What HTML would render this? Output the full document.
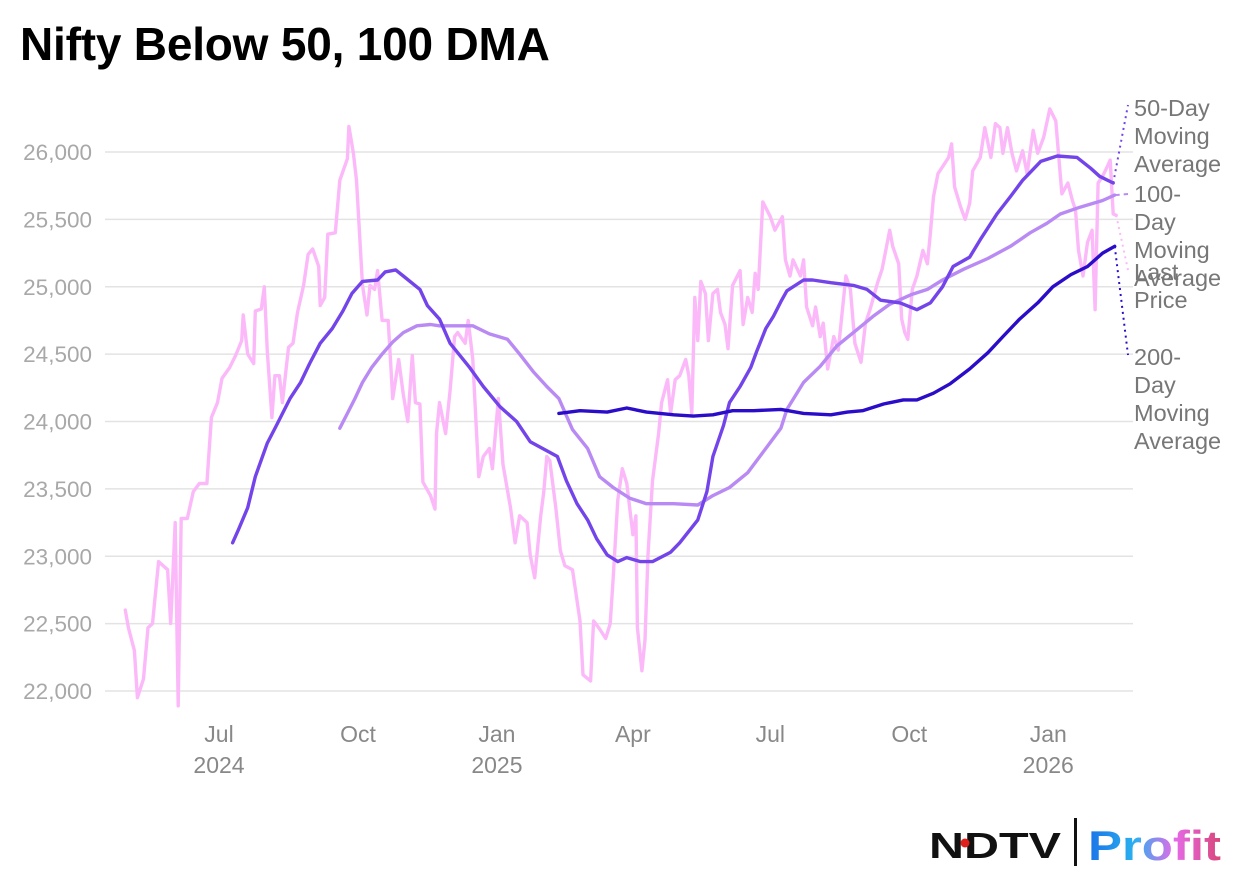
<!DOCTYPE html>
<html><head><meta charset="utf-8"><style>
html,body{margin:0;padding:0;background:#fff;}
body{width:1240px;height:888px;overflow:hidden;font-family:"Liberation Sans",sans-serif;position:relative;}
#title{position:absolute;left:20px;top:17px;font-size:46px;font-weight:bold;color:#000;letter-spacing:-0.2px;}
</style></head><body>
<div id="title">Nifty Below 50, 100 DMA</div>
<svg id="chart" width="1240" height="888" style="position:absolute;left:0;top:0" xmlns="http://www.w3.org/2000/svg">
<defs><linearGradient id="pg" x1="0" x2="1" y1="0" y2="0"><stop offset="0" stop-color="#1a73e8"/><stop offset="0.35" stop-color="#2ab0f0"/><stop offset="0.65" stop-color="#e56ae8"/><stop offset="1" stop-color="#d9467a"/></linearGradient></defs>
<g id="grid"></g><g id="yticks"></g><g id="xticks"></g><g id="series"></g><g id="annot"></g>
<g>
<text x="929" y="858" font-family="Liberation Sans, sans-serif" font-weight="bold" font-size="36" fill="#111" textLength="132" lengthAdjust="spacingAndGlyphs">NDTV</text>
<circle cx="965" cy="843" r="4.5" fill="#e0201c"/>
<rect x="1074" y="818" width="3" height="48" fill="#111"/>
<text x="1088" y="860" font-family="Liberation Sans, sans-serif" font-weight="bold" font-size="42" fill="url(#pg)" textLength="133" lengthAdjust="spacingAndGlyphs">Profit</text>
</g>
</svg>
<script>
// Days since 2024-07-01
const priceDays=[-62,-60,-56,-54,-50,-47,-44,-40,-34,-32,-29,-27,-25,-21,-17,-13,-8,-5,-1,2,7,11,15,16,19,23,24,28,30,32,35,37,40,42,46,49,52,56,59,62,66,67,70,72,77,80,85,86,89,91,95,98,100,103,105,108,112,115,119,122,125,128,130,133,135,140,143,144,146,150,153,156,158,163,165,168,172,175,179,181,185,188,193,196,199,204,206,209,213,215,217,219,223,226,229,234,239,241,246,248,252,256,259,261,264,267,270,274,276,277,280,282,284,287,291,293,297,299,302,305,309,311,313,315,317,319,322,324,327,330,332,335,337,340,345,347,350,353,355,357,360,365,368,373,375,378,380,385,387,389,393,395,398,400,403,407,410,415,418,421,425,428,431,436,439,444,446,450,452,454,456,459,462,466,469,471,473,476,479,483,485,487,491,494,497,499,504,507,511,514,517,519,522,525,528,532,535,539,542,546,550,554,556,558,562,565,567,569,572,575,578,580,582,585,588,590,592,594];
const priceVals=[22600,22470,22300,21950,22090,22470,22500,22960,22900,22500,23250,21890,23280,23280,23480,23540,23540,24030,24140,24320,24400,24490,24600,24790,24500,24430,24820,24835,25000,24520,24030,24340,24340,24140,24550,24580,24810,25010,25240,25280,25150,24860,24920,25390,25400,25790,25950,26190,25990,25790,25010,24790,25010,24980,25120,24750,24750,24170,24460,24200,24000,24490,24140,24130,23550,23450,23350,23910,24140,23910,24230,24630,24660,24580,24750,24460,23590,23740,23800,23650,24170,23680,23360,23100,23300,23250,23010,22840,23300,23480,23740,23710,23360,23040,22930,22900,22520,22120,22075,22520,22460,22390,22500,22840,23420,23650,23540,23160,23300,22470,22150,22380,23010,23560,23910,24140,24310,24060,24310,24340,24460,24340,24060,24920,24600,25040,24950,24600,24950,24980,24810,24720,24540,25010,25120,24720,24920,24810,25100,24980,25630,25520,25420,25520,25200,25080,25200,25080,25200,24850,24710,24850,24630,24730,24390,24630,24530,25080,24980,24580,24440,24730,24830,25030,25130,25420,25300,25170,24760,24660,24610,24980,25080,25270,25170,25400,25670,25840,25890,25960,26060,25740,25590,25500,25620,25860,25960,26180,25960,26210,26180,25990,26180,25990,25860,26010,25840,26160,25990,26110,26320,26230,25960,25690,25770,25640,25570,25270,25080,25330,25420,24830,25770,25820,25890,25940,25540,25530];
const ma50Days=[9,13,19,24,32,38,47,54,60,67,75,82,88,95,105,110,117,122,133,138,146,153,166,175,186,197,206,224,230,237,244,250,257,264,270,279,287,299,305,317,323,327,334,338,345,352,356,362,367,372,376,387,393,405,420,429,438,451,462,471,479,486,497,504,515,524,532,544,555,568,577,583,592];
const ma50Vals=[23100,23200,23360,23590,23840,23970,24170,24290,24430,24580,24690,24820,24950,25040,25050,25110,25125,25080,24980,24860,24760,24580,24400,24260,24110,24000,23850,23740,23560,23390,23270,23130,23010,22960,22990,22960,22960,23030,23100,23270,23480,23740,23970,24140,24260,24400,24520,24690,24780,24890,24970,25050,25050,25030,25010,24980,24900,24880,24830,24880,25000,25150,25220,25350,25540,25670,25790,25930,25970,25960,25880,25820,25770];
const ma100Days=[80,85,90,95,101,108,115,122,131,140,146,168,179,191,199,208,217,225,234,244,252,261,272,283,301,317,327,338,350,358,372,376,387,398,409,420,433,444,458,469,479,493,509,524,537,548,557,570,585,593];
const ma100Vals=[23950,24060,24170,24290,24400,24500,24590,24660,24710,24720,24710,24710,24650,24610,24500,24370,24260,24170,23940,23800,23590,23510,23430,23390,23390,23380,23450,23510,23620,23740,23950,24090,24290,24410,24560,24660,24780,24870,24940,24980,25050,25130,25210,25300,25400,25470,25540,25590,25640,25680];
const ma200Days=[225,239,257,270,283,301,314,327,340,354,372,387,405,416,426,440,453,462,473,484,497,509,519,530,542,552,564,575,585,593];
const ma200Vals=[24060,24080,24070,24100,24070,24050,24040,24050,24080,24080,24090,24060,24050,24070,24080,24130,24160,24160,24210,24280,24390,24510,24630,24760,24880,25000,25090,25150,25250,25300];
const yTicks=[22000,22500,23000,23500,24000,24500,25000,25500,26000];
const xTickDays=[0,92,184,274,365,457,549];
const xTickMonths=["Jul","Oct","Jan","Apr","Jul","Oct","Jan"];
const xTickYears=["2024","","2025","","","","2026"];

const NS="http://www.w3.org/2000/svg";
function X(d){return 219+d*1.5105;}
function Y(v){return 691-(v-22000)*0.13475;}
function mk(tag,attrs,parent){const e=document.createElementNS(NS,tag);for(const k in attrs)e.setAttribute(k,attrs[k]);parent.appendChild(e);return e;}
const grid=document.getElementById('grid'),yt=document.getElementById('yticks'),xt=document.getElementById('xticks'),ser=document.getElementById('series'),an=document.getElementById('annot');
yTicks.forEach(v=>{
  const l=mk('line',{x1:105,x2:1133,y1:Y(v),y2:Y(v),stroke:'#e3e3e3','stroke-width':1.5},grid);
  
  
  const t=mk('text',{x:92,y:Y(v)+8,'text-anchor':'end','font-size':22.5,fill:'#a8a8a8','font-family':'Liberation Sans, sans-serif'},yt);
  t.textContent=v.toLocaleString('en-US');
  
  
});
xTickDays.forEach((d,i)=>{
  const t=mk('text',{x:X(d),y:742,'text-anchor':'middle','font-size':23,fill:'#888','font-family':'Liberation Sans, sans-serif'},xt);
  t.textContent=xTickMonths[i];
  
  
  if(xTickYears[i]){
    const t2=mk('text',{x:X(d),y:773,'text-anchor':'middle','font-size':23,fill:'#888','font-family':'Liberation Sans, sans-serif'},xt);
    t2.textContent=xTickYears[i];
    
    
  }
});
function line(days,vals,color,w,name){
  const d=days.map((dd,i)=>(i?'L':'M')+X(dd).toFixed(1)+' '+Y(vals[i]).toFixed(1)).join(' ');
  const p=mk('path',{d:d,fill:'none',stroke:color,'stroke-width':w,'stroke-linejoin':'round','stroke-linecap':'round'},ser);
  
  
  return p;
}
line(priceDays,priceVals,'#fbb9f9',3.4,'last-price-line');
line(ma100Days,ma100Vals,'#b98af4',3.4,'ma100-line');
line(ma50Days,ma50Vals,'#7344ea',3.4,'ma50-line');
line(ma200Days,ma200Vals,'#2a0cc9',3.4,'ma200-line');
function label(lines,y0,name,endDay,endVal,ly,color,dash){
  const lx=X(endDay),lyv=Y(endVal);
  const l=mk('line',{x1:lx,y1:lyv,x2:1128,y2:ly,stroke:color,'stroke-width':2,'stroke-dasharray':dash},an);
  
  
  lines.forEach((s,i)=>{
    const t=mk('text',{x:1134,y:y0+i*28,'font-size':23.5,fill:'#777','font-family':'Liberation Sans, sans-serif'},an);
    t.textContent=s;
    
    
  });
}
label(['50-Day','Moving','Average'],116,'ma50',ma50Days[ma50Days.length-1],ma50Vals[ma50Vals.length-1],105,'#7344ea','2 4');
label(['100-','Day','Moving','Average'],202,'ma100',ma100Days[ma100Days.length-1],ma100Vals[ma100Vals.length-1],194,'#b98af4','5 4');
label(['Last','Price'],280,'last-price',priceDays[priceDays.length-1],priceVals[priceVals.length-1],270,'#fbb9f9','2 4');
label(['200-','Day','Moving','Average'],365,'ma200',ma200Days[ma200Days.length-1],ma200Vals[ma200Vals.length-1],355,'#2a0cc9','2 4');
</script>
</body></html>
